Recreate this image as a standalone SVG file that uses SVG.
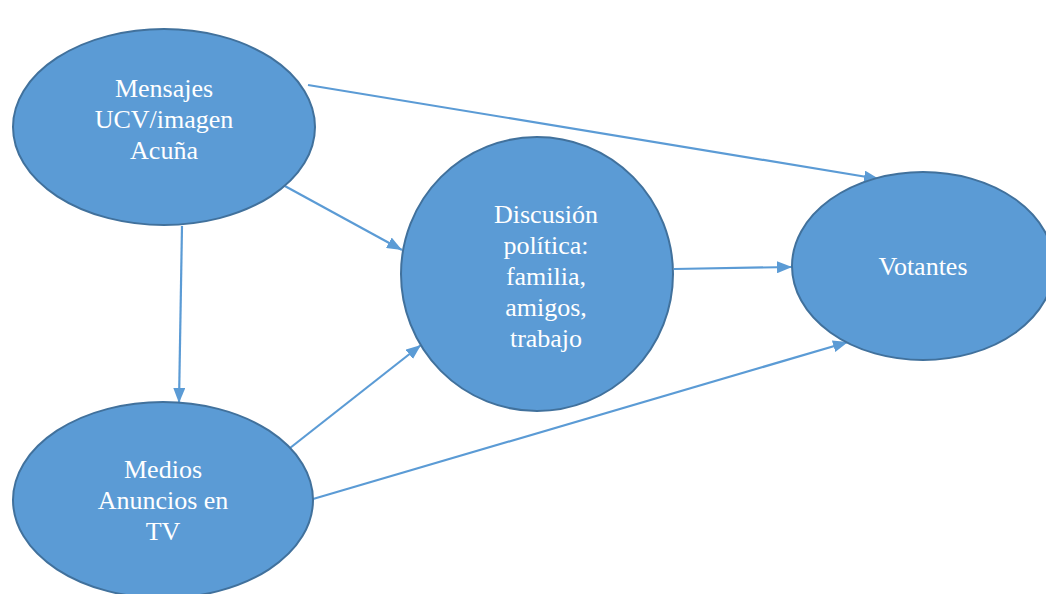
<svg xmlns="http://www.w3.org/2000/svg" width="1046" height="594" viewBox="0 0 1046 594">
<style>
.node ellipse{fill:#5B9BD5;stroke:#41719C;stroke-width:2}
.node text{fill:#FFFFFF;font-family:"Liberation Serif","Times New Roman",serif;font-size:26px;text-anchor:middle}
.edge{stroke:#5B9BD5;stroke-width:2.2;fill:none;marker-end:url(#arrow)}
</style>
<defs>
<marker id="arrow" markerUnits="userSpaceOnUse" markerWidth="16" markerHeight="12" refX="15" refY="6" orient="auto">
<path d="M0,0 L15,6 L0,12 z" fill="#5B9BD5"/>
</marker>
</defs>
<rect width="1046" height="594" fill="#FFFFFF"/>
<g id="connectors">
<line class="edge" x1="308" y1="85" x2="879" y2="179"/>
<line class="edge" x1="283" y1="185" x2="402" y2="250"/>
<line class="edge" x1="182" y1="226" x2="179" y2="403"/>
<line class="edge" x1="674" y1="269" x2="792" y2="267"/>
<line class="edge" x1="290" y1="448" x2="421" y2="345"/>
<line class="edge" x1="313" y1="499" x2="848" y2="342"/>
</g>
<g id="node-mensajes" class="node">
<ellipse cx="164" cy="127" rx="151" ry="98"/>
<text x="164" y="97">Mensajes</text>
<text x="164" y="128">UCV/imagen</text>
<text x="164" y="159">Acuña</text>
</g>
<g id="node-discusion" class="node">
<ellipse cx="537" cy="274" rx="136" ry="137"/>
<text x="546" y="223">Discusión</text>
<text x="546" y="254">política:</text>
<text x="546" y="285">familia,</text>
<text x="546" y="316">amigos,</text>
<text x="546" y="347">trabajo</text>
</g>
<g id="node-votantes" class="node">
<ellipse cx="923" cy="266" rx="131" ry="94"/>
<text x="923" y="275">Votantes</text>
</g>
<g id="node-medios" class="node">
<ellipse cx="163" cy="500" rx="150" ry="98"/>
<text x="163" y="478">Medios</text>
<text x="163" y="509">Anuncios en</text>
<text x="163" y="540">TV</text>
</g>
</svg>
